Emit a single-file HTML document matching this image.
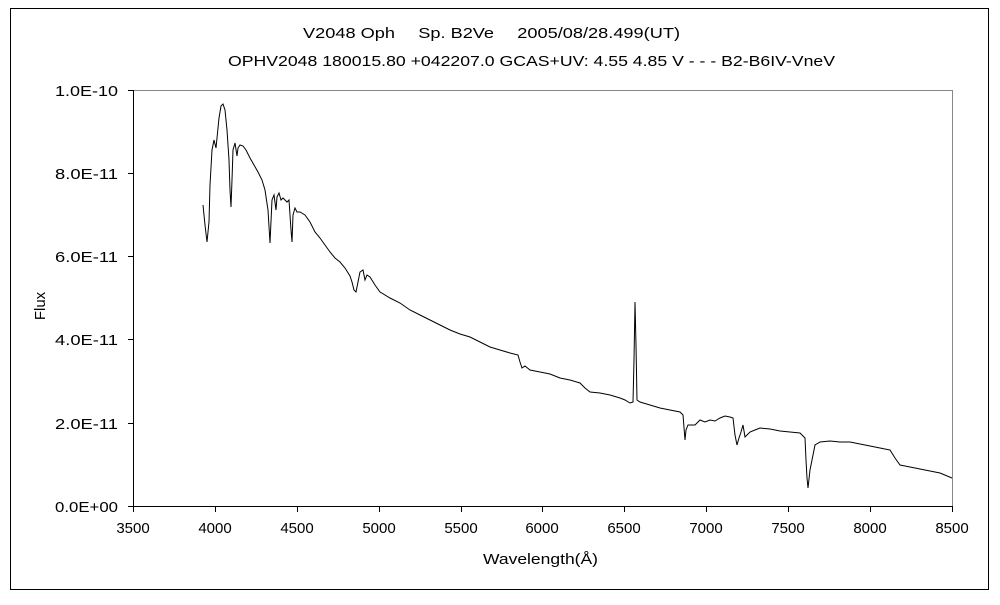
<!DOCTYPE html>
<html><head><meta charset="utf-8"><style>
html,body{margin:0;padding:0;background:#fff;}
svg text{font-family:"Liberation Sans","Noto Sans CJK JP",sans-serif;font-size:15px;fill:#000;}
</style></head><body>
<svg width="1000" height="600" xmlns="http://www.w3.org/2000/svg">
<rect x="10.5" y="8.5" width="978" height="581" fill="#fff" stroke="#000" stroke-width="1"/>
<text x="303" y="38" textLength="377" lengthAdjust="spacingAndGlyphs">V2048 Oph　 Sp. B2Ve　 2005/08/28.499(UT)</text>
<text x="228" y="66" textLength="607" lengthAdjust="spacingAndGlyphs">OPHV2048 180015.80 +042207.0 GCAS+UV: 4.55 4.85 V - - - B2-B6IV-VneV</text>
<line x1="133" y1="90.5" x2="952" y2="90.5" stroke="#888"/>
<line x1="952.5" y1="90" x2="952.5" y2="506" stroke="#888"/>
<g stroke="#000" stroke-width="1">
<line x1="133.5" y1="90" x2="133.5" y2="506"/>
<line x1="133" y1="506.5" x2="953" y2="506.5"/>
<line x1="128" y1="90.5" x2="133" y2="90.5"/>
<line x1="128" y1="173.5" x2="133" y2="173.5"/>
<line x1="128" y1="256.5" x2="133" y2="256.5"/>
<line x1="128" y1="339.5" x2="133" y2="339.5"/>
<line x1="128" y1="423.5" x2="133" y2="423.5"/>
<line x1="128" y1="506.5" x2="133" y2="506.5"/>
<line x1="133.5" y1="506" x2="133.5" y2="512"/>
<line x1="215.5" y1="506" x2="215.5" y2="512"/>
<line x1="297.5" y1="506" x2="297.5" y2="512"/>
<line x1="379.5" y1="506" x2="379.5" y2="512"/>
<line x1="461.5" y1="506" x2="461.5" y2="512"/>
<line x1="542.5" y1="506" x2="542.5" y2="512"/>
<line x1="624.5" y1="506" x2="624.5" y2="512"/>
<line x1="706.5" y1="506" x2="706.5" y2="512"/>
<line x1="788.5" y1="506" x2="788.5" y2="512"/>
<line x1="870.5" y1="506" x2="870.5" y2="512"/>
<line x1="952.5" y1="506" x2="952.5" y2="512"/>
</g>
<g>
<text x="55" y="96" textLength="63" lengthAdjust="spacingAndGlyphs">1.0E-10</text>
<text x="55" y="179" textLength="63" lengthAdjust="spacingAndGlyphs">8.0E-11</text>
<text x="55" y="262" textLength="63" lengthAdjust="spacingAndGlyphs">6.0E-11</text>
<text x="55" y="345" textLength="63" lengthAdjust="spacingAndGlyphs">4.0E-11</text>
<text x="55" y="429" textLength="63" lengthAdjust="spacingAndGlyphs">2.0E-11</text>
<text x="55" y="512" textLength="63" lengthAdjust="spacingAndGlyphs">0.0E+00</text>
</g>
<g text-anchor="middle">
<text x="133" y="533">3500</text><text x="215" y="533">4000</text><text x="297" y="533">4500</text>
<text x="379" y="533">5000</text><text x="461" y="533">5500</text><text x="542" y="533">6000</text>
<text x="624" y="533">6500</text><text x="706" y="533">7000</text><text x="788" y="533">7500</text>
<text x="870" y="533">8000</text><text x="952" y="533">8500</text>
</g>
<text x="483" y="564" textLength="115" lengthAdjust="spacingAndGlyphs">Wavelength(Å)</text>
<text x="45" y="306" text-anchor="middle" transform="rotate(-90 45 306)">Flux</text>
<polyline fill="none" stroke="#000" stroke-width="1" points="203,205 205,225 207,242 209,222 210,185 212,150 214,140 216,148 217,138 219,118 221,106 223,104 225,110 227,130 229,160 230,190 231,207 232,180 233,150 235,143 237,156 238,148 240,145 243,146 246,150 250,158 254,165 258,172 262,180 265,190 268,210 270,243 272,200 274,195 276,210 277,197 279,193 281,200 283,198 285,200 287,202 289,200 291,230 292,242 293,215 295,208 297,212 300,212 305,215 310,222 315,232 320,238 325,245 330,252 335,258 340,262 345,268 350,276 352,282 354,290 356,292 358,282 360,272 363,270 365,280 367,275 370,277 375,285 380,292 390,298 400,303 410,310 420,315 430,320 440,325 450,330 460,334 470,337 480,342 490,347 500,350 510,353 518,355 520,362 522,368 525,366 530,370 540,372 550,374 560,378 570,380 580,383 585,388 590,392 600,393 610,395 620,398 625,400 630,403 633,402 634,360 635,302 636,345 637,400 640,402 650,405 660,408 670,410 680,412 683,415 685,440 686,430 688,425 695,425 700,420 705,422 710,420 715,421 720,418 725,416 730,417 733,418 735,435 737,445 739,438 741,432 743,425 745,437 747,435 750,432 755,430 760,428 770,429 780,431 790,432 800,433 805,438 806,460 807,478 808,488 810,470 812,460 815,445 820,442 830,441 840,442 850,442 860,444 870,446 880,448 890,450 895,458 900,465 905,466 910,467 920,469 930,471 940,473 952,478"/>
</svg>
</body></html>
